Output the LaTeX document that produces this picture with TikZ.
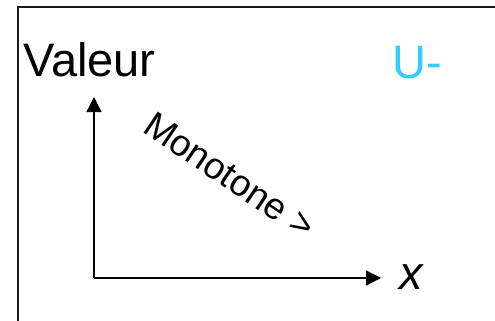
\documentclass[tikz,border=0pt]{standalone}
\usepackage{fontspec}
\setmainfont{Liberation Sans}
\usetikzlibrary{arrows.meta}
\definecolor{ucyan}{RGB}{51,204,255}
\tikzset{
  lbl/.style={inner sep=0pt, anchor=base west, font=\fontsize{47}{50}\selectfont},
  axis/.style={line width=1.3pt, -{Triangle[length=15pt,width=15pt]}},
  frame/.style={line width=1.2pt, draw=black!90}
}
\begin{document}
\begin{tikzpicture}[x=1pt,y=-1pt]
  \useasboundingbox (0,0) rectangle (495,321);
  % outer frame (runs off the right and bottom edges)
  \draw[frame] (18,330) -- (18,7) -- (500,7);
  % axes
  \coordinate (O) at (94,278);
  \coordinate (ytip) at (94,97);
  \coordinate (xtip) at (381,278);
  \draw[axis] (O) -- (ytip);
  \draw[axis] (O) -- (xtip);
  % labels
  \node[lbl] (val) at (23,77) {Valeur};
  \node[lbl, text=ucyan] (u) at (392,78) {U-};
  \node[lbl, font=\fontsize{47}{50}\selectfont\itshape] (x) at (399,289) {x};
  \node[lbl, font=\fontsize{37}{40}\selectfont, rotate=-34] (mono) at (141,131) {Monotone >};
\end{tikzpicture}
\end{document}
